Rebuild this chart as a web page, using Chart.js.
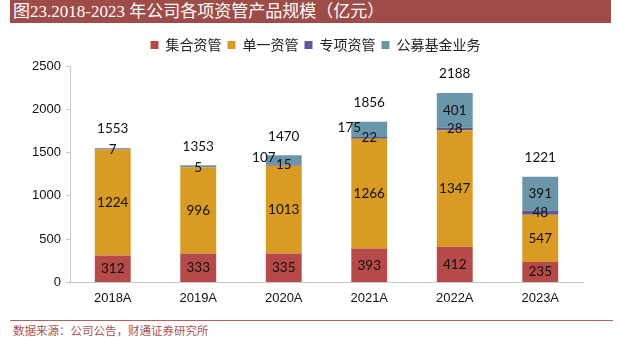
<!DOCTYPE html>
<html>
<head>
<meta charset="utf-8">
<script src="https://cdn.jsdelivr.net/npm/chart.js@4"></script>
<style>
  body { margin: 0; width: 620px; height: 337px; background: #fff; position: relative; overflow: hidden; }
  #title { position: absolute; left: 10px; top: 0; width: 601px; height: 23px; background: #9f4b48;
           color: #fff; font: 17px "Liberation Serif", "Noto Sans CJK SC", serif; line-height: 23px; padding-left: 3px; box-sizing: border-box; }
  #wrap { position: absolute; left: 0; top: 12px; width: 620px; height: 306px; }
  #rule { position: absolute; left: 10px; top: 320px; width: 603px; height: 1px; background: #b8605c; }
  #src { position: absolute; left: 13px; top: 322px; font: 11.5px "Noto Sans CJK SC", sans-serif; color: #a8554f; }
</style>
</head>
<body>
<div id="title">图23.2018-2023 年公司各项资管产品规模（亿元）</div>
<div id="wrap"><canvas id="myChart"></canvas></div>
<div id="rule"></div>
<div id="src">数据来源：公司公告，财通证券研究所</div>
<script>
// categories and series (亿元)
var years = ['2018A', '2019A', '2020A', '2021A', '2022A', '2023A']
var jihe = [312, 333, 335, 393, 412, 235]      // 集合资管
var danyi = [1224, 996, 1013, 1266, 1347, 547] // 单一资管
var zhuanxiang = [7, 5, 15, 22, 28, 48]        // 专项资管
var gongmu = [10, 19, 107, 175, 401, 391]      // 公募基金业务
var yTicks = [0, 500, 1000, 1500, 2000, 2500]

var totals = years.map((y, i) => jihe[i] + danyi[i] + zhuanxiang[i] + gongmu[i])

// draw numbers on the segments and the totals above each bar
var labelPlugin = {
    id: 'labels',
    afterDatasetsDraw(chart) {
        var ctx = chart.ctx
        ctx.save()
        ctx.font = '13.5px Lato, "Open Sans", sans-serif'
        ctx.fillStyle = '#111'
        ctx.textAlign = 'center'
        ctx.textBaseline = 'middle'
        chart.data.datasets.forEach((ds, di) => {
            var meta = chart.getDatasetMeta(di)
            meta.data.forEach((bar, i) => {
                var v = ds.data[i]
                var h = bar.base - bar.y
                var cy = (bar.y + bar.base) / 2
                if (di == 3) {
                    if (v < 50) return
                    if (h < 20) {
                        ctx.fillText(v, bar.x - bar.width / 2 - 2, cy - 2)
                        return
                    }
                }
                ctx.fillText(v, bar.x, cy)
            })
        })
        var last = chart.getDatasetMeta(3)
        last.data.forEach((bar, i) => {
            ctx.fillText(totals[i], bar.x, bar.y - 19)
        })
        ctx.restore()
    }
}

// legend a bit lower gap and shifted right, like the original
var legendTweak = {
    id: 'legendTweak',
    beforeInit(chart) {
        var fit = chart.legend.fit
        chart.legend.fit = function () { fit.call(this); this.height += 4 }
    },
    afterLayout(chart) {
        chart.legend.left += 24
        chart.legend.right += 24
    }
}

const ctx = document.getElementById('myChart');

new Chart(ctx, {
    type: 'bar',
    data: {
        labels: years,
        datasets: [
            { label: '集合资管', data: jihe, backgroundColor: '#b64a49' },
            { label: '单一资管', data: danyi, backgroundColor: '#da9b25' },
            { label: '专项资管', data: zhuanxiang, backgroundColor: '#5d5b97' },
            { label: '公募基金业务', data: gongmu, backgroundColor: '#6a96aa' }
        ]
    },
    options: {
        responsive: true,
        maintainAspectRatio: false,
        animation: false,
        layout: { padding: { top: 20, right: 37, bottom: 4, left: 0 } },
        datasets: { bar: { barPercentage: 0.42, categoryPercentage: 1, borderWidth: 0 } },
        plugins: {
            legend: {
                labels: {
                    boxWidth: 8, boxHeight: 8, padding: 6, color: '#222',
                    font: { family: '"Noto Sans CJK SC", sans-serif', size: 14 }
                }
            },
            tooltip: { enabled: false }
        },
        scales: {
            x: {
                stacked: true,
                grid: { drawOnChartArea: false, drawTicks: false },
                border: { color: '#c8c8c8', width: 1 },
                ticks: { color: '#111', padding: 8, font: { family: '"Liberation Sans", Arial', size: 13 } }
            },
            y: {
                stacked: true,
                min: 0, max: 2500,
                afterBuildTicks: (s) => { s.ticks = yTicks.map(v => ({ value: v })) },
                afterFit: (s) => { s.width = 70 },
                grid: { drawOnChartArea: false, tickLength: 4, color: '#c8c8c8' },
                border: { color: '#c8c8c8', width: 1 },
                ticks: {
                    color: '#111', padding: 5, font: { family: '"Liberation Sans", Arial', size: 13 },
                    callback: (v) => String(v)
                }
            }
        }
    },
    plugins: [labelPlugin, legendTweak]
});
</script>
</body>
</html>
